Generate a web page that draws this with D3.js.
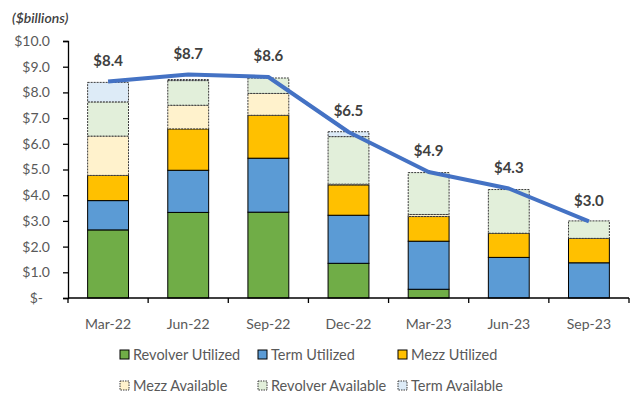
<!DOCTYPE html>
<html><head><meta charset="utf-8">
<script src="https://cdn.jsdelivr.net/npm/d3@7"></script>
<style>
body{margin:0;background:#fff;}
svg{display:block;font-family:Lato,"Open Sans",sans-serif;}
</style></head>
<body><svg id="c" width="640" height="408"></svg>
<script>
const categories = ["Mar-22","Jun-22","Sep-22","Dec-22","Mar-23","Jun-23","Sep-23"];
const revolverUtilized  = [2.65, 3.33, 3.34, 1.35, 0.34, 0.00, 0.00];
const termUtilized      = [1.14, 1.64, 2.10, 1.87, 1.87, 1.58, 1.37];
const mezzUtilized      = [0.98, 1.61, 1.67, 1.18, 0.96, 0.94, 0.95];
const mezzAvailable     = [1.53, 0.92, 0.85, 0.03, 0.08, 0.00, 0.00];
const revolverAvailable = [1.33, 0.96, 0.60, 1.85, 1.63, 1.70, 0.68];
const termAvailable     = [0.76, 0.04, 0.00, 0.19, 0.00, 0.00, 0.00];
const totals            = [8.42, 8.70, 8.60, 6.46, 4.90, 4.26, 2.98];
const yTicks = [0,1,2,3,4,5,6,7,8,9,10];

const series = [
  {name:"Revolver Utilized", values:revolverUtilized, fill:"#70AD47", avail:false},
  {name:"Term Utilized", values:termUtilized, fill:"#5B9BD5", avail:false},
  {name:"Mezz Utilized", values:mezzUtilized, fill:"#FFC000", avail:false},
  {name:"Mezz Available", values:mezzAvailable, fill:"#FFF2CC", avail:true},
  {name:"Revolver Available", values:revolverAvailable, fill:"#E2EFDA", avail:true},
  {name:"Term Available", values:termAvailable, fill:"#DDEBF7", avail:true}
];

const svg = d3.select("#c");
const pLeft = 68, pRight = 629, pTop = 41, pBottom = 298;
const x = d3.scaleBand().domain(categories).range([pLeft, pRight]).padding(0);
const y = d3.scaleLinear().domain([0, 10]).range([pBottom, pTop]);
const barW = x.bandwidth() * 0.51;

const table = categories.map((c, i) => {
  const o = {cat: c};
  series.forEach(s => o[s.name] = s.values[i]);
  return o;
});
const stacked = d3.stack().keys(series.map(s => s.name))(table);

stacked.forEach((layer, li) => {
  const s = series[li];
  svg.append("g").selectAll("rect").data(layer.filter(d => d[1] - d[0] > 0)).join("rect")
    .attr("x", d => x(d.data.cat) + (x.bandwidth() - barW) / 2)
    .attr("width", barW)
    .attr("y", d => y(d[1]))
    .attr("height", d => y(d[0]) - y(d[1]))
    .attr("fill", s.fill)
    .attr("stroke", s.avail ? "#3a3a3a" : "#000")
    .attr("stroke-width", 1)
    .attr("stroke-dasharray", s.avail ? "2,1" : null);
});

// axes
const yAxis = d3.axisLeft(y).tickValues(yTicks).tickSize(5).tickPadding(13)
  .tickFormat(d => d === 0 ? "$-" : "$" + d3.format(".1f")(d));
const gy = svg.append("g").attr("transform", `translate(${pLeft},0)`).call(yAxis);
gy.select(".domain").attr("stroke", "#000").attr("stroke-width", 1.3);
gy.selectAll(".tick line").attr("stroke", "#000").attr("stroke-width", 1.3);
gy.selectAll(".tick text").attr("fill", "#595959").style("font-size", "14px")
  .style("font-family", "Lato,sans-serif");
gy.selectAll(".tick").filter(d => d === 0).select("text").attr("dx", -7);

const gx = svg.append("g").attr("transform", `translate(0,${pBottom})`);
gx.append("line").attr("x1", pLeft).attr("x2", pRight).attr("y1", 0).attr("y2", 0)
  .attr("stroke", "#000").attr("stroke-width", 1.3);
const bounds = categories.map(c => x(c)).concat([pRight]);
gx.selectAll("line.t").data(bounds).join("line").attr("class", "t")
  .attr("x1", d => d).attr("x2", d => d).attr("y1", 0).attr("y2", 5)
  .attr("stroke", "#000").attr("stroke-width", 1.3);
gx.selectAll("text").data(categories).join("text")
  .attr("x", d => x(d) + x.bandwidth() / 2).attr("y", 31)
  .attr("text-anchor", "middle").attr("fill", "#595959")
  .style("font-size", "14px").text(d => d);

// total line
const line = d3.line().x((d, i) => x(categories[i]) + x.bandwidth() / 2).y(d => y(d));
svg.append("path").datum(totals).attr("d", line).attr("fill", "none")
  .attr("stroke", "#4472C4").attr("stroke-width", 4).attr("stroke-linejoin", "round");

svg.append("g").selectAll("text").data(totals).join("text")
  .attr("x", (d, i) => x(categories[i]) + x.bandwidth() / 2)
  .attr("y", d => y(d) - 21).attr("dy", "0.35em")
  .attr("text-anchor", "middle").attr("fill", "#404040")
  .style("font-size", "15px").style("font-weight", "bold")
  .text(d => "$" + d3.format(".1f")(d));

// y title
svg.append("text").attr("x", 12).attr("y", 23).attr("fill", "#404040")
  .style("font-size", "14px").style("font-style", "italic").style("font-weight", "600")
  .text("($billions)");

// legend
const legendPos = [[120,355],[258,355],[398,355],[120,386],[258,386],[398,386]];
const lg = svg.append("g").selectAll("g").data(series).join("g")
  .attr("transform", (d, i) => `translate(${legendPos[i][0]},${legendPos[i][1]})`);
lg.append("rect").attr("x", 0).attr("y", -5).attr("width", 9).attr("height", 9)
  .attr("fill", d => d.fill).attr("stroke", d => d.avail ? "#3a3a3a" : "#000")
  .attr("stroke-dasharray", d => d.avail ? "1.5,1" : null);
lg.append("text").attr("x", 13).attr("y", 0).attr("dy", "0.35em").attr("fill", "#595959")
  .style("font-size", "14.5px").text(d => d.name);
</script></body></html>
